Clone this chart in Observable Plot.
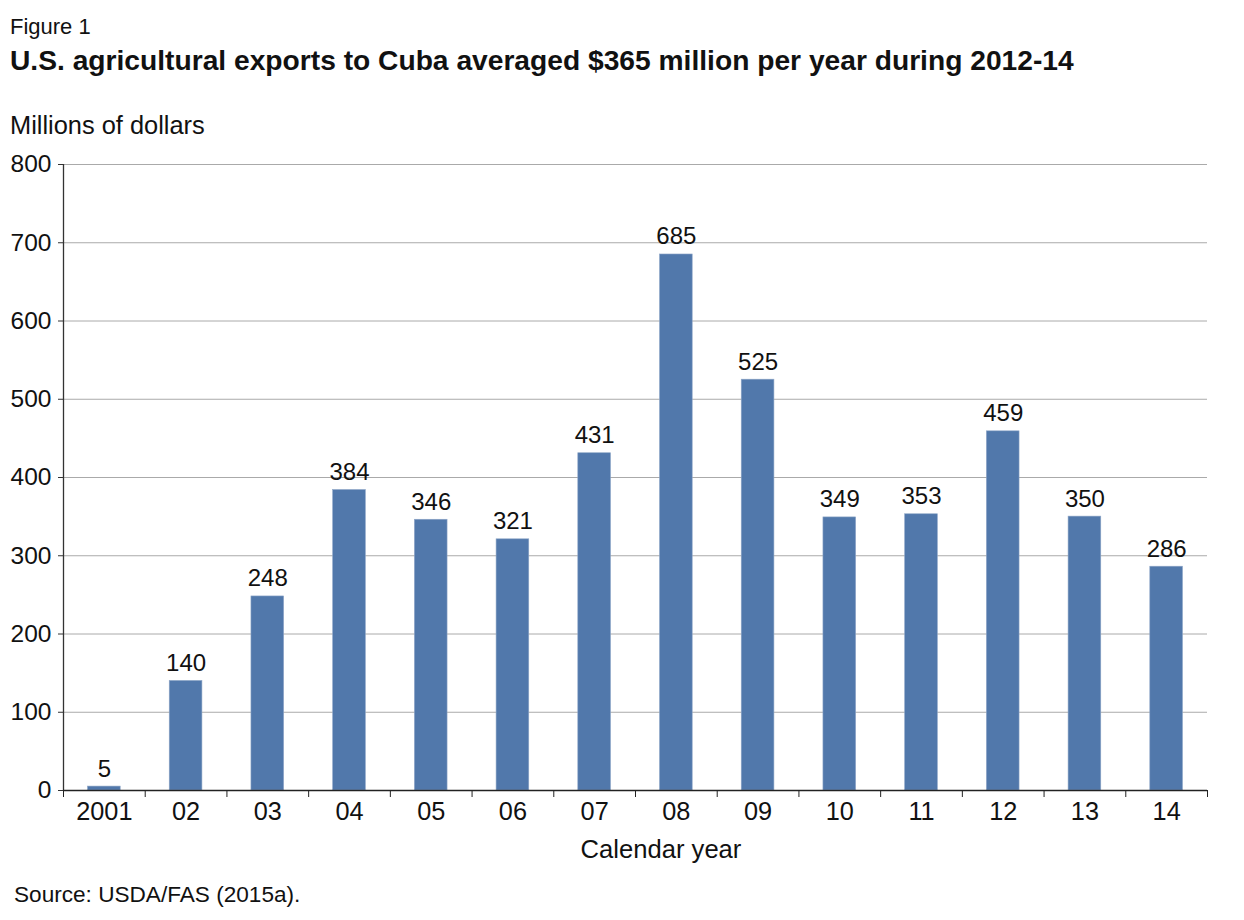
<!DOCTYPE html>
<html>
<head>
<meta charset="utf-8">
<script src="https://cdn.jsdelivr.net/npm/d3@7"></script>
<script src="https://cdn.jsdelivr.net/npm/@observablehq/plot@0.6"></script>
<style>
  html, body { margin: 0; padding: 0; background: #fff; }
  body { width: 1244px; height: 920px; position: relative; font-family: "Liberation Sans", Arial, Helvetica, sans-serif; color: #111; }
  .t { position: absolute; white-space: nowrap; line-height: 1; }
  #fig { left: 10px; top: 16px; font-size: 22px; }
  #title { left: 10px; top: 46px; font-size: 28.2px; font-weight: bold; }
  #ylab { left: 10px; top: 113px; font-size: 25.4px; }
  #xlab { left: 661px; top: 837px; font-size: 25.6px; transform: translateX(-50%); }
  #source { left: 14px; top: 884px; font-size: 22.6px; }
  #chart { position: absolute; left: 0; top: 140px; }
</style>
</head>
<body>
<div class="t" id="fig">Figure 1</div>
<div class="t" id="title">U.S. agricultural exports to Cuba averaged $365 million per year during 2012-14</div>
<div class="t" id="ylab">Millions of dollars</div>
<div id="chart"></div>
<div class="t" id="xlab">Calendar year</div>
<div class="t" id="source">Source: USDA/FAS (2015a).</div>
<script>
const years = ["2001", "02", "03", "04", "05", "06", "07", "08", "09", "10", "11", "12", "13", "14"];
const values = [5, 140, 248, 384, 346, 321, 431, 685, 525, 349, 353, 459, 350, 286];
const yTicks = [0, 100, 200, 300, 400, 500, 600, 700, 800];

const data = years.map((y, i) => ({year: y, i, value: values[i]}));
const boundaries = d3.range(years.length + 1);
const centers = years.map((_, i) => i + 0.5);

const chart = Plot.plot({
  width: 1244,
  height: 730,
  marginLeft: 63,
  marginRight: 37,
  marginTop: 24,
  marginBottom: 80,
  style: {fontFamily: '"Liberation Sans", Arial, Helvetica, sans-serif', color: "#111", background: "#fff"},
  x: {domain: [0, years.length]},
  y: {domain: [0, 800]},
  marks: [
    Plot.gridY(yTicks.filter(d => d > 0), {stroke: "#aaaaaa", strokeOpacity: 1, strokeWidth: 1}),
    Plot.rectY(data, {x1: d => d.i + 0.3, x2: d => d.i + 0.7, y1: 0, y2: "value", fill: "#5178ab", stroke: "#8ea6c7", strokeWidth: 0.6}),
    Plot.text(data, {x: d => d.i + 0.5, y: "value", text: d => String(d.value), dy: -10, lineAnchor: "bottom", fontSize: 24, fill: "#111"}),
    Plot.axisY({ticks: yTicks, tickSize: 5, tickPadding: 7, fontSize: 24.5, label: null, stroke: "#333", color: "#111"}),
    Plot.axisX({ticks: boundaries, tickSize: 7, tickFormat: () => "", label: null, stroke: "#222"}),
    Plot.axisX({ticks: centers, tickSize: 0, tickPadding: 12, fontSize: 25.3, tickFormat: (d) => years[Math.round(d - 0.5)], label: null, color: "#111"}),
    Plot.ruleX([0], {y1: 0, y2: 800, stroke: "#333", strokeWidth: 1.3}),
    Plot.ruleY([0], {stroke: "#222", strokeWidth: 1.3})
  ]
});
document.getElementById("chart").appendChild(chart);
</script>
</body>
</html>
